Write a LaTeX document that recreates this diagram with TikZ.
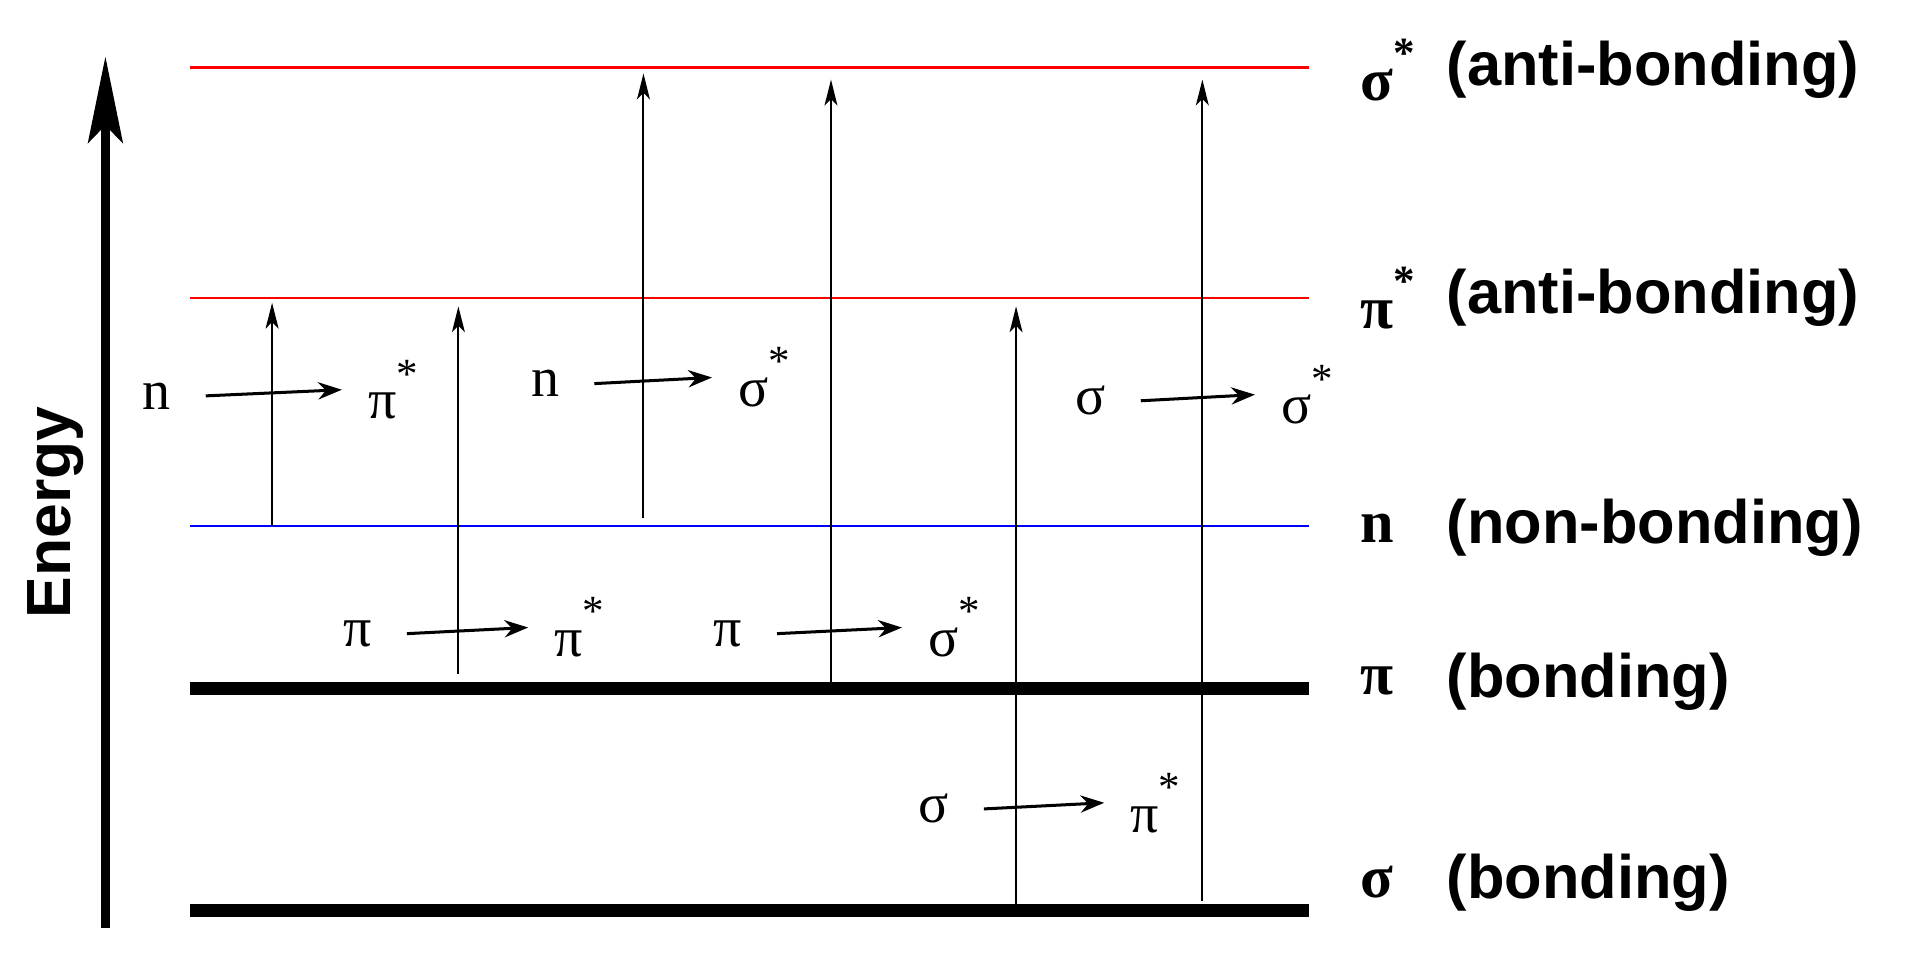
\documentclass[tikz,border=0pt]{standalone}
\usepackage{fontspec}
\setmainfont{Liberation Serif}
\setsansfont{Liberation Sans}
\usetikzlibrary{arrows.meta}
\newcommand{\st}{\raisebox{0.55em}{\fontsize{20}{20}\selectfont *}}
\begin{document}
\begin{tikzpicture}[x=0.02cm,y=-0.02cm,
  lvl/.style={line width=1.2pt},
  bond/.style={line width=6pt},
  tr/.style={line width=0.9pt,-{Stealth[length=12pt,width=6pt,inset=3pt]}},
  sm/.style={line width=1.4pt,-{Stealth[length=11pt,width=8pt]}},
  gl/.style={font=\fontsize{26}{28}\selectfont,inner sep=0pt},
  rs/.style={font=\fontsize{28}{30}\selectfont\bfseries,inner sep=0pt},
  rt/.style={font=\fontsize{28.5}{30}\selectfont\sffamily\bfseries,anchor=west,inner sep=0pt}]
\useasboundingbox (0,0) rectangle (1560,783);
% levels
\draw[lvl,red] (155,55) -- (1068,55);
\draw[lvl,red] (155,243) -- (1068,243);
\draw[lvl,blue] (155,429) -- (1068,429);
\draw[bond] (155,562) -- (1068,562);
\draw[bond] (155,743) -- (1068,743);
% energy axis
\coordinate (e0) at (86,757); \coordinate (e1) at (86,46);
\draw[line width=4.5pt,-{Stealth[length=40pt,width=16pt,inset=8pt]}] (e0) -- (e1);
\node[rotate=90,font=\fontsize{29}{30}\selectfont\sffamily\bfseries] (en) at (45,418) {Energy};
% transitions
\foreach \n/\x/\a/\b in {t1/222/429/247, t2/374/550/250, t3/525/423/60, t4/678/557/65, t5/829/740/250, t6/981/735/65}{
  \coordinate (\n a) at (\x,\a); \coordinate (\n b) at (\x,\b);
  \draw[tr] (\n a) -- (\n b);
}
% transition labels
\foreach \n/\s/\t/\xs/\xt/\y in {
  la/n/{π\st}/128/322/323, lb/n/{σ\st}/445/624/313, lc/σ/{σ\st}/890/1067/327,
  ld/π/{π\st}/292/474/517, le/π/{σ\st}/594/779/517, lf/σ/{π\st}/762/944/660}{
  \node[gl] (\n s) at (\xs,\y) {\s};
  \node[gl,anchor=west] (\n t) at (\xt-22,\y-5) {\t};
  \draw[sm] ([xshift=16pt]\n s.east) -- ([xshift=-12pt]\n t.west);
}
% right labels
\foreach \n/\s/\t/\y in {r1/{σ\st}/(anti-bonding)/57, r2/{π\st}/(anti-bonding)/243, r3/n/(non-bonding)/431, r4/π/(bonding)/556, r5/σ/(bonding)/720}{
  \node[rs,anchor=west] (\n s) at (1110,\y) {\s};
  \node[rt] (\n t) at (1180,\y) {\t};
}
\end{tikzpicture}
\end{document}
